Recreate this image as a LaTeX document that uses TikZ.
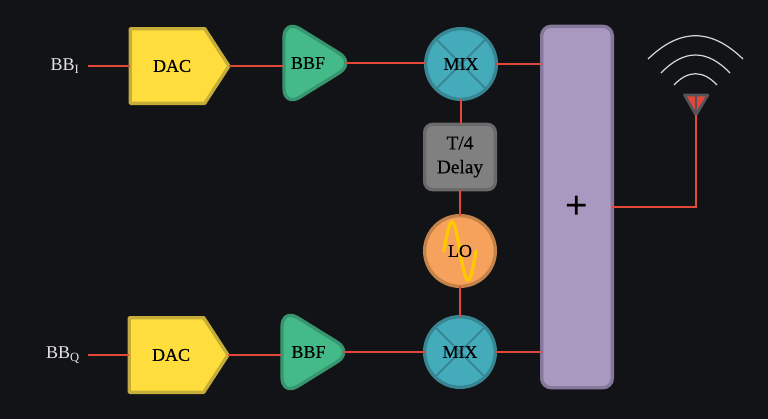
\documentclass[tikz,border=0pt]{standalone}
\usepackage{fontspec}
\setmainfont{Liberation Serif}
\newfontfamily\lblfont{Liberation Serif}[FakeBold=0.35]
\usetikzlibrary{shapes.geometric,shapes.symbols}
\definecolor{bgc}{HTML}{121317}
\definecolor{wirec}{HTML}{E2483A}
\definecolor{dacf}{HTML}{FFDD3C}\definecolor{dacs}{HTML}{C6AC38}
\definecolor{bbff}{HTML}{43BA87}\definecolor{bbfs}{HTML}{379670}
\definecolor{mixf}{HTML}{43ABBA}\definecolor{mixs}{HTML}{388694}
\definecolor{delf}{HTML}{808080}\definecolor{dels}{HTML}{6A6A6A}
\definecolor{lof}{HTML}{F6A25C}\definecolor{los}{HTML}{C38349}
\definecolor{sumf}{HTML}{A998C0}\definecolor{sums}{HTML}{85789A}
\definecolor{wavec}{HTML}{FFC800}\definecolor{antc}{HTML}{55525C}
\definecolor{arcc}{HTML}{D8D8D8}
\newcommand{\lowered}[1]{\raisebox{-1pt}{#1}}
\tikzset{
  lbl/.style={font=\lblfont\fontsize{13.5}{15.5}\selectfont, text=black, align=center, inner sep=0pt, outer sep=0pt},
  dacbox/.style={lbl, signal, signal to=east, signal pointer angle=114, draw=dacs, fill=dacf, line width=2.5pt, minimum width=74pt, minimum height=56pt, line join=round},
  bbfpath/.style={draw=bbfs, fill=bbff, line width=2.5pt, rounded corners=14pt, line join=round},
  bbfbox/.style={lbl, rectangle, minimum width=46.5pt, minimum height=55.5pt},
  mixbox/.style={lbl, circle, draw=mixs, fill=mixf, line width=2.5pt, minimum size=53pt,
    path picture={\draw[mixs, line width=1.5pt] (path picture bounding box.south west)--(path picture bounding box.north east) (path picture bounding box.north west)--(path picture bounding box.south east);}},
  delbox/.style={lbl, font=\lblfont\fontsize{14.5}{17}\selectfont, rectangle, rounded corners=6pt, draw=dels, fill=delf, line width=2.5pt, minimum width=53pt, minimum height=49pt},
  lobox/.style={lbl, circle, draw=los, fill=lof, line width=2.5pt, minimum size=53pt,
    path picture={\draw[wavec, line width=2.5pt, line cap=round] plot[domain=-16:16, samples=41] ([xshift=0.75*\x pt, yshift={21.75*sin(360*(\x+16)/32)*1pt}]path picture bounding box.center);}},
  sumbox/.style={lbl, rectangle, rounded corners=7pt, draw=sums, fill=sumf, line width=2.5pt, minimum width=53pt, minimum height=271pt},
  wire/.style={draw=wirec, line width=1.6pt},
  vwire/.style={draw=wirec, line width=1.9pt},
  bblbl/.style={text=white!90!black, font=\fontsize{13.5}{15.5}\selectfont, inner sep=0pt},
  arcline/.style={draw=arcc, line width=0.9pt}
}
\begin{document}
\begin{tikzpicture}[x=0.75pt,y=-0.75pt]
\useasboundingbox (0,0) rectangle (768,419);
\fill[bgc] (0,0) rectangle (768,419);

\node[bblbl] (bbi) at (65,66) {BB\textsubscript{I}};
\node[bblbl] (bbq) at (63,355) {BB\textsubscript{Q}};
\coordinate (si) at (88,66);
\coordinate (sq) at (88,355);

\node[dacbox] (dac1) at (167.5,66) {\hspace{6.8pt}\lowered{DAC}};
\node[dacbox] (dac2) at (166.5,355) {\hspace{6.8pt}\lowered{DAC}};

\draw[bbfpath] (284,19) -- (355,63) -- (284,107) -- cycle;
\draw[bbfpath] (282,308) -- (353,352) -- (282,396) -- cycle;
\node[bbfbox] (bbf1) at (314,63) {\lowered{BBF}\hspace{9pt}};
\node[bbfbox] (bbf2) at (312.5,352) {\lowered{BBF}\hspace{6pt}};

\node[mixbox] (mix1) at (461,64) {\lowered{MIX}};
\node[mixbox] (mix2) at (460,352) {\lowered{MIX}};
\node[delbox] (del) at (460,157) {\lowered{T/4}\\[1pt]\lowered{Delay}};
\node[lobox] (lo) at (460,251) {\lowered{LO}};
\node[sumbox] (sum) at (577,207) {\fontspec{Liberation Sans}\fontsize{29}{31}\selectfont\raisebox{-3pt}{+}};

% antenna
\coordinate (ant) at (696,115);
\draw[antc, fill=wirec, line width=2pt, line join=round] (684.5,95) -- (708,95) -- (696,115) -- cycle;
\draw[antc, line width=1.2pt] (696,95) -- (ant);
\draw[arcline] (648,59) .. controls (680,28) and (711,28) .. (743,59);
\draw[arcline] (661,73) .. controls (684,49) and (707,49) .. (730,73);
\draw[arcline] (674,85) .. controls (688,70) and (703,70) .. (717,85);

% connectors
\draw[wire] (si) -- (dac1.west);
\draw[wire] (sq) -- (dac2.west);
\draw[wire] (dac1.east) -- (dac1.east -| bbf1.west);
\draw[wire] (dac2.east) -- (dac2.east -| bbf2.west);
\draw[wire] (bbf1.east) -- (bbf1.east -| mix1.west);
\draw[wire] (bbf2.east) -- (bbf2.east -| mix2.west);
\draw[wire] (mix1.east) -- (mix1.east -| sum.west);
\draw[wire] (mix2.east) -- (mix2.east -| sum.west);
\draw[vwire] (mix1.south) -- (mix1.south |- del.north);
\draw[vwire] (del.south) -- (del.south |- lo.north);
\draw[vwire] (lo.south) -- (lo.south |- mix2.north);
\draw[wire] (sum.east) -| (ant);
\end{tikzpicture}
\end{document}
